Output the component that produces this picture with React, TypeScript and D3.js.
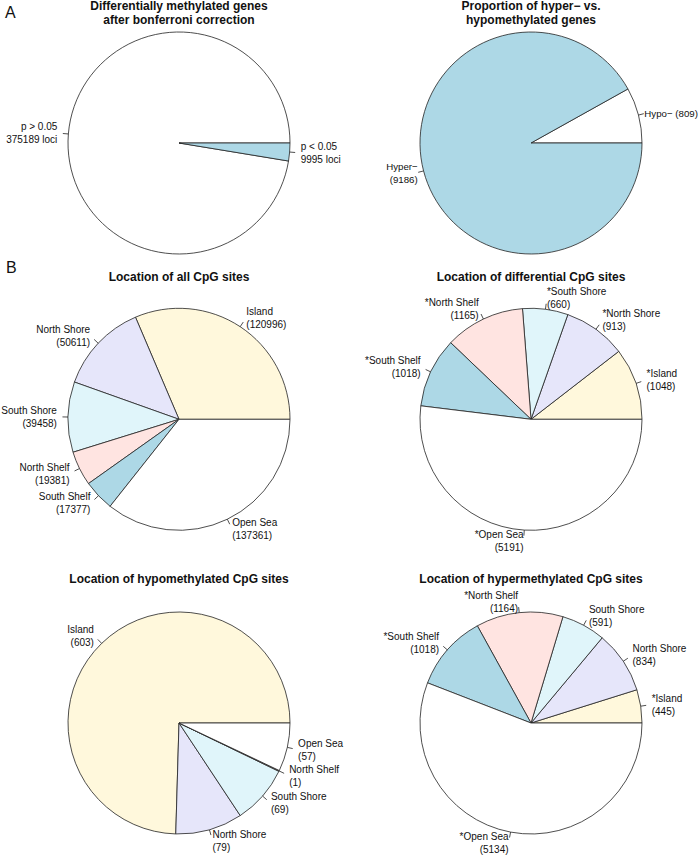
import React from "react";
import * as d3 from "d3";

// ---- data ----
const pie1Labels = ["p > 0.05\n375189 loci", "p < 0.05\n9995 loci"];
const pie1Values = [375189, 9995];
const pie1Colors = ["#FFFFFF", "#ADD8E6"];

const pie2Labels = ["Hypo\u2212 (809)", "Hyper\u2212\n(9186)"];
const pie2Values = [809, 9186];
const pie2Colors = ["#FFFFFF", "#ADD8E6"];

const regionColors = ["#FFF8DC", "#E6E6FA", "#E0F5FA", "#FFE4E1", "#ADD8E6", "#FFFFFF"];

const pie3Names = ["Island", "North Shore", "South Shore", "North Shelf", "South Shelf", "Open Sea"];
const pie3Values = [120996, 50611, 39458, 19381, 17377, 137361];

const pie4Names = ["*Island", "*North Shore", "*South Shore", "*North Shelf", "*South Shelf", "*Open Sea"];
const pie4Values = [1048, 913, 660, 1165, 1018, 5191];

const pie5Names = ["Island", "North Shore", "South Shore", "North Shelf", "Open Sea"];
const pie5Values = [603, 79, 69, 1, 57];
const pie5Colors = ["#FFF8DC", "#E6E6FA", "#E0F5FA", "#FFE4E1", "#FFFFFF"];

const pie6Names = ["*Island", "North Shore", "South Shore", "*North Shelf", "*South Shelf", "*Open Sea"];
const pie6Values = [445, 834, 591, 1164, 1018, 5134];

const titles = [
  ["Differentially methylated genes", "after bonferroni correction"],
  ["Proportion of hyper\u2212 vs.", "hypomethylated genes"],
  ["Location of all CpG sites"],
  ["Location of differential CpG sites"],
  ["Location of hypomethylated CpG sites"],
  ["Location of hypermethylated CpG sites"],
];

const withCounts = (names: string[], values: number[]) => names.map((n, i) => `${n}\n(${values[i]})`);

const FONT = "'Liberation Sans', Arial, Helvetica, sans-serif";

type PieSpec = {
  labels: string[];
  values: number[];
  colors: string[];
  cx: number;
  cy: number;
  title: string[];
  titleY: number;
  labelR?: number;
  labelFont?: number;
};

const R = 111;
const LH = 13;

function Pie({ spec }: { spec: PieSpec }) {
  const data = spec.values.map((v, i) => ({ v, label: spec.labels[i], color: spec.colors[i] }));
  // R-style: counterclockwise starting at 3 o'clock
  const arcs = d3
    .pie<{ v: number; label: string; color: string }>()
    .value((d) => d.v)
    .sort(null)
    .startAngle(Math.PI / 2)
    .endAngle(Math.PI / 2 - 2 * Math.PI)(data);
  const arcGen = d3.arc<any>().innerRadius(0).outerRadius(R);
  const lr = spec.labelR ?? 1.1;
  const lf = spec.labelFont ?? 10;
  return (
    <g>
      <text
        x={spec.cx}
        y={spec.titleY}
        textAnchor="middle"
        fontFamily={FONT}
        fontWeight="bold"
        fontSize={12}
        fill="#111"
      >
        {spec.title.map((t, i) => (
          <tspan key={i} x={spec.cx} dy={i === 0 ? 0 : 14.2}>
            {t}
          </tspan>
        ))}
      </text>
      <g transform={`translate(${spec.cx},${spec.cy})`}>
        {arcs.map((a, i) => {
          const p = arcGen(a) as string;
          return (
            <path key={i} d={p} fill={a.data.color} stroke="#222" strokeWidth={0.8} strokeLinejoin="round" />
          );
        })}
        {arcs.map((a, i) => {
          const mid = (a.startAngle + a.endAngle) / 2;
          const sx = Math.sin(mid);
          const sy = -Math.cos(mid);
          const lx = lr * R * sx;
          const ly = lr * R * sy;
          const lines = a.data.label.split("\n");
          const anchor = lx < 0 ? "end" : "start";
          const y0 = ly - ((lines.length - 1) * LH) / 2 + 3.6;
          return (
            <g key={"l" + i}>
              <line x1={R * sx} y1={R * sy} x2={1.05 * R * sx} y2={1.05 * R * sy} stroke="#222" strokeWidth={0.8} />
              <text x={lx} y={y0} textAnchor={anchor} fontFamily={FONT} fontSize={lf} fill="#111">
                {lines.map((t, j) => (
                  <tspan key={j} x={lx} dy={j === 0 ? 0 : LH}>
                    {t}
                  </tspan>
                ))}
              </text>
            </g>
          );
        })}
      </g>
    </g>
  );
}

export default function App() {
  const left = 179;
  const right = 531;
  const specs: PieSpec[] = [
    { labels: pie1Labels, values: pie1Values, colors: pie1Colors, cx: left, cy: 143, title: titles[0], titleY: 10 },
    {
      labels: pie2Labels,
      values: pie2Values,
      colors: pie2Colors,
      cx: right,
      cy: 143,
      title: titles[1],
      titleY: 10,
      labelR: 1.055,
      labelFont: 9.7,
    },
    { labels: withCounts(pie3Names, pie3Values), values: pie3Values, colors: regionColors, cx: left, cy: 419.3, title: titles[2], titleY: 281 },
    { labels: withCounts(pie4Names, pie4Values), values: pie4Values, colors: regionColors, cx: right, cy: 419.3, title: titles[3], titleY: 281 },
    { labels: withCounts(pie5Names, pie5Values), values: pie5Values, colors: pie5Colors, cx: left, cy: 723, title: titles[4], titleY: 583 },
    { labels: withCounts(pie6Names, pie6Values), values: pie6Values, colors: regionColors, cx: right, cy: 723, title: titles[5], titleY: 583 },
  ];
  return (
    <div style={{ position: "absolute", left: 0, top: 0 }}>
      <svg width={700} height={856} style={{ display: "block", background: "#fff" }}>
        <rect width={700} height={856} fill="#fff" />
        <text x={5} y={18} fontFamily={FONT} fontSize={16} fill="#111">
          A
        </text>
        <text x={6} y={273} fontFamily={FONT} fontSize={16} fill="#111">
          B
        </text>
        {specs.map((s, i) => (
          <Pie key={i} spec={s} />
        ))}
      </svg>
    </div>
  );
}
